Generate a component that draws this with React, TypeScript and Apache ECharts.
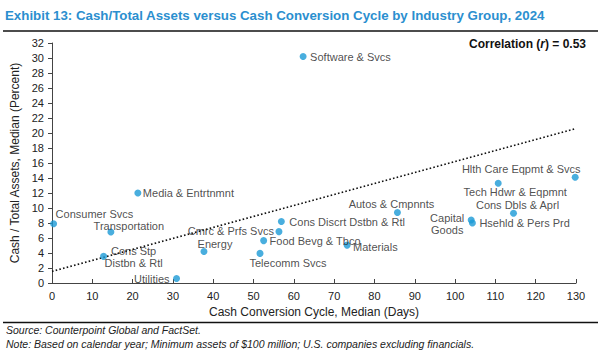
import React, { useEffect, useRef } from "react";
import * as echarts from "echarts";

// ---- Data ----
const industries = [
  "Consumer Svcs",
  "Transportation",
  "Cons Stp\nDistbn & Rtl",
  "Media & Entrtnmnt",
  "Utilities",
  "Energy",
  "Cmrc & Prfs Svcs",
  "Cons Discrt Dstbn & Rtl",
  "Food Bevg & Tbco",
  "Telecomm Svcs",
  "Software & Svcs",
  "Autos & Cmpnnts",
  "Materials",
  "Capital\nGoods",
  "Hsehld & Pers Prd",
  "Tech Hdwr & Eqpmnt",
  "Cons Dbls & Aprl",
  "Hlth Care Eqpmt & Svcs",
];
const cashConversionDays = [0.4, 14.6, 12.8, 21.3, 30.9, 37.7, 56.3, 56.9, 52.5, 51.6, 62.3, 85.7, 73.2, 104.0, 104.3, 110.7, 114.5, 129.8];
const cashToAssetsPct = [7.9, 6.8, 3.55, 12.0, 0.6, 4.2, 6.85, 8.2, 5.65, 3.95, 30.2, 9.4, 5.05, 8.4, 8.0, 13.3, 9.3, 14.1];

const trendDays = [0, 130];
const trendPct = [1.55, 20.6];

const xTicks = { min: 0, max: 130, interval: 10 };
const yTicks = { min: 0, max: 32, interval: 2 };

// ---- Label placement (layout only): [align, dx, dy] ----
const labelPlacement: Record<string, [string, number, number]> = {
  "Consumer Svcs": ["left", 2, -9.5],
  "Transportation": ["center", 18, -6],
  "Cons Stp\nDistbn & Rtl": ["center", 30, 1],
  "Media & Entrtnmnt": ["left", 5, 0],
  "Utilities": ["right", -7, 0],
  "Energy": ["center", 11, -8],
  "Cmrc & Prfs Svcs": ["right", -5, -1],
  "Cons Discrt Dstbn & Rtl": ["left", 8, 0],
  "Food Bevg & Tbco": ["left", 6, 0],
  "Telecomm Svcs": ["center", 28, 10],
  "Software & Svcs": ["left", 7, 0],
  "Autos & Cmpnnts": ["center", -6, -9],
  "Materials": ["left", 6, 2],
  "Capital\nGoods": ["center", -24, 4],
  "Hsehld & Pers Prd": ["left", 7, 0],
  "Tech Hdwr & Eqpmnt": ["center", 17, 9],
  "Cons Dbls & Aprl": ["center", 4, -8],
  "Hlth Care Eqpmt & Svcs": ["center", -54, -8],
};

const FONT = "'Liberation Sans', Arial, sans-serif";
const DOT = "#1b9ad6";
const TXT = "#222";

export default function App() {
  const ref = useRef<HTMLDivElement>(null);

  useEffect(() => {
    if (!ref.current) return;
    const chart = echarts.init(ref.current, undefined, { renderer: "svg" });

    const scatterData = industries.map((name, i) => {
      const p = labelPlacement[name] || ["left", 6, 0];
      return {
        name,
        value: [cashConversionDays[i], cashToAssetsPct[i]],
        label: {
          show: true,
          position: "inside",
          align: p[0],
          verticalAlign: "middle",
          offset: [p[1], p[2]],
          formatter: name,
          color: TXT,
          fontSize: 11,
          fontFamily: FONT,
          lineHeight: 12,
        },
      };
    });

    const option: any = {
      animation: false,
      backgroundColor: "#fff",
      textStyle: { fontFamily: FONT },
      grid: { left: 52, right: 26, top: 43, bottom: 71, containLabel: false },
      xAxis: {
        type: "value",
        min: xTicks.min,
        max: xTicks.max,
        interval: xTicks.interval,
        name: "Cash Conversion Cycle, Median (Days)",
        nameLocation: "middle",
        nameGap: 22,
        nameTextStyle: { fontSize: 12, color: TXT, fontFamily: FONT },
        axisLine: { show: true, lineStyle: { color: "#444", width: 1 } },
        axisTick: { show: true, inside: true, length: 4, lineStyle: { color: "#444" } },
        axisLabel: { fontSize: 11, color: TXT, margin: 7, fontFamily: FONT },
        splitLine: { show: false },
      },
      yAxis: {
        type: "value",
        min: yTicks.min,
        max: yTicks.max,
        interval: yTicks.interval,
        name: "Cash / Total Assets, Median (Percent)",
        nameLocation: "middle",
        nameGap: 28,
        nameTextStyle: { fontSize: 12, color: TXT, fontFamily: FONT },
        axisLine: { show: true, lineStyle: { color: "#444", width: 1 } },
        axisTick: { show: true, inside: false, length: 4, lineStyle: { color: "#444" } },
        axisLabel: { fontSize: 11, color: TXT, margin: 8, fontFamily: FONT },
        splitLine: { show: false },
      },
      series: [
        {
          type: "line",
          data: trendDays.map((d, i) => [d, trendPct[i]]),
          showSymbol: false,
          symbol: "none",
          lineStyle: { color: "#111", width: 1.6, type: [1.6, 2.2] },
          silent: true,
          z: 1,
        },
        {
          type: "scatter",
          data: scatterData,
          symbol: "circle",
          symbolSize: 7,
          itemStyle: { color: DOT },
          z: 3,
        },
      ],
      graphic: [
        {
          type: "text",
          left: 5,
          top: 9,
          style: {
            text: "Exhibit 13: Cash/Total Assets versus Cash Conversion Cycle by Industry Group, 2024",
            fill: "#2b8fcf",
            font: `bold 13.3px ${FONT}`,
          },
        },
        {
          type: "line",
          shape: { x1: 3, y1: 31, x2: 598, y2: 31 },
          style: { stroke: "#111", lineWidth: 1.5 },
        },
        {
          type: "text",
          x: 586,
          y: 44,
          style: {
            text: "{b|Correlation (}{bi|r}{b|) = 0.53}",
            align: "right",
            verticalAlign: "middle",
            rich: {
              b: { fontWeight: "bold", fontSize: 12, fontFamily: FONT, fill: "#111" },
              bi: { fontWeight: "bold", fontStyle: "italic", fontSize: 12, fontFamily: FONT, fill: "#111" },
            },
          },
        },
        {
          type: "line",
          shape: { x1: 3, y1: 322.5, x2: 598, y2: 322.5 },
          style: { stroke: "#111", lineWidth: 1.5 },
        },
        {
          type: "text",
          x: 6,
          y: 330,
          style: {
            text: "Source: Counterpoint Global and FactSet.",
            fill: "#222",
            font: `italic 10.5px ${FONT}`,
            verticalAlign: "middle",
          },
        },
        {
          type: "text",
          x: 6,
          y: 344,
          style: {
            text: "Note: Based on calendar year; Minimum assets of $100 million; U.S. companies excluding financials.",
            fill: "#222",
            font: `italic 10.5px ${FONT}`,
            verticalAlign: "middle",
          },
        },
      ],
    };

    chart.setOption(option);
    return () => chart.dispose();
  }, []);

  return (
    <div
      ref={ref}
      style={{ position: "fixed", left: 0, top: 0, width: 602, height: 354, background: "#fff" }}
    />
  );
}
